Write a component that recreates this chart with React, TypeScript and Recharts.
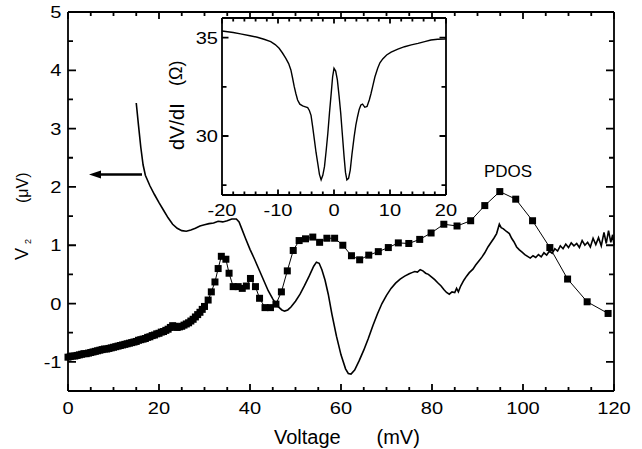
import React from 'react';
import { ComposedChart, LineChart, Line, XAxis, YAxis } from 'recharts';

const FONT = '"Liberation Sans", Arial, Helvetica, sans-serif';
const INK = '#000';

// measured V2 signal (solid line): bias voltage in mV, V2 in µV
const v2Volt = [
  15, 15.5, 16, 16.5, 17, 18, 19, 20, 21, 22,
  23, 24, 25, 26, 27, 28, 29, 30, 31, 32,
  33, 34, 35, 36, 37, 37.6, 38.2, 39, 40, 41,
  42, 43, 44, 45, 46, 47, 47.6, 48.3, 49, 50,
  51, 52, 53, 54, 54.6, 55.2, 55.8, 56.5, 57.2, 58,
  59, 60, 61, 61.6, 62.2, 63, 64, 65, 66, 67,
  68, 69, 70, 71, 72, 73, 74, 75, 75.6, 76.2,
  76.8, 77.4, 78, 78.6, 79.2, 80, 80.6, 81.2, 82, 82.6,
  83.2, 83.8, 84.4, 85, 85.4, 85.8, 86.3, 87, 87.6, 88.2,
  89, 89.6, 90.3, 91, 91.6, 92.3, 93, 93.6, 94.2, 94.8,
  95.2, 95.7, 96.3, 97, 97.5, 98, 98.6, 99.2, 99.8, 100.4,
  101, 101.6, 102.2, 102.8, 103.4, 104, 104.6, 105.2, 105.8, 106.4,
  107, 107.6, 108.2, 108.8, 109.4, 110, 110.6, 111.2, 111.8, 112.4,
  113, 113.6, 114.2, 114.8, 115.4, 116, 116.6, 117.2, 117.8, 118.3,
  118.8, 119.3, 119.7, 120,
];
const v2Val = [
  3.44, 3.05, 2.68, 2.38, 2.2, 2.02, 1.87, 1.73, 1.6, 1.47,
  1.36, 1.29, 1.25, 1.24, 1.26, 1.29, 1.33, 1.35, 1.37, 1.38,
  1.41, 1.4, 1.42, 1.45, 1.45, 1.4, 1.28, 1.12, 0.93, 0.76,
  0.58, 0.4, 0.22, 0.08, -0.04, -0.11, -0.13, -0.11, -0.06, 0.04,
  0.16, 0.31, 0.47, 0.64, 0.71, 0.69, 0.58, 0.4, 0.16, -0.18,
  -0.56, -0.88, -1.12, -1.2, -1.21, -1.14, -0.98, -0.8, -0.6, -0.38,
  -0.18, 0.0, 0.14, 0.26, 0.35, 0.42, 0.47, 0.51, 0.53, 0.55,
  0.54, 0.58, 0.56, 0.52, 0.5, 0.45, 0.41, 0.36, 0.3, 0.24,
  0.19, 0.16, 0.2, 0.19, 0.26, 0.2, 0.3, 0.4, 0.47, 0.53,
  0.59, 0.66, 0.73, 0.8, 0.87, 0.97, 1.05, 1.12, 1.2, 1.36,
  1.3, 1.28, 1.24, 1.2, 1.12, 1.06, 0.97, 0.92, 0.88, 0.84,
  0.81, 0.78, 0.82, 0.79, 0.84, 0.8, 0.87, 0.83, 0.9, 0.86,
  0.94, 0.9, 0.99, 0.94, 1.02, 0.96, 1.04, 0.99, 1.03, 0.96,
  1.08, 1.0, 1.05, 0.97, 1.12, 1.01, 1.13, 0.99, 1.22, 1.03,
  1.25, 1.05, 1.18, 1.0,
];

// PDOS (square markers)
const pdosVolt = [
  0, 0.5, 1, 1.5, 2, 2.5, 3, 3.5, 4, 4.5,
  5, 5.5, 6, 6.5, 7, 7.5, 8, 8.5, 9, 9.5,
  10, 10.5, 11, 11.5, 12, 12.5, 13, 13.5, 14, 14.5,
  15, 15.5, 16, 16.5, 17, 17.5, 18, 18.5, 19, 19.5,
  20, 20.5, 21, 21.5, 22, 22.5, 23, 23.5, 24, 24.5,
  25, 25.5, 26, 26.5, 27, 27.5, 28, 28.5, 29, 29.5,
  30, 30.8, 31.5, 32.3, 33.0, 33.7, 34.7, 35.4, 36.3, 37.4,
  38.3, 39.2, 40.1, 41.2, 42.1, 43.3, 44.5, 45.7, 46.9, 48.2,
  49.5, 50.8, 52.2, 53.8, 55.3, 56.9, 58.6, 60.4, 62.3, 64.1,
  66.1, 68.2, 70.4, 72.6, 74.9, 77.3, 79.8, 82.6, 85.5, 88.5,
  91.6, 94.9, 98.4, 102.1, 105.9, 109.8, 114.1, 118.7,
];
const pdosVal = [
  -0.92, -0.91, -0.9, -0.9, -0.89, -0.88, -0.87, -0.86, -0.86, -0.85,
  -0.84, -0.83, -0.82, -0.81, -0.8, -0.79, -0.78, -0.78, -0.77, -0.76,
  -0.75, -0.74, -0.73, -0.72, -0.71, -0.7, -0.69, -0.68, -0.67, -0.66,
  -0.65, -0.63, -0.62, -0.61, -0.6, -0.58, -0.57, -0.55, -0.54, -0.52,
  -0.51, -0.49, -0.48, -0.46, -0.44, -0.41, -0.38, -0.39, -0.41, -0.4,
  -0.39, -0.37, -0.35, -0.33, -0.3, -0.27, -0.23, -0.19, -0.15, -0.1,
  -0.05, 0.06, 0.2, 0.37, 0.6, 0.81, 0.76, 0.52, 0.29, 0.29,
  0.26, 0.3, 0.43, 0.29, 0.09, -0.07, -0.07, -0.01, 0.2, 0.56,
  0.91, 1.08, 1.11, 1.14, 1.05, 1.12, 1.12, 1.0, 0.82, 0.75,
  0.83, 0.89, 0.96, 1.04, 1.03, 1.1, 1.21, 1.36, 1.33, 1.42,
  1.68, 1.92, 1.79, 1.42, 0.96, 0.42, 0.03, -0.17,
];

// inset: dV/dI (Ω) against voltage (mV)
const insetVolt = [
  -20, -18, -16.7, -15, -13.7, -12.5, -11.3, -10.5, -9.8, -9.2,
  -8.6, -8.1, -7.7, -7.4, -7.1, -6.8, -6.5, -6.1, -5.6, -5.1,
  -4.7, -4.4, -4.1, -3.8, -3.5, -3.2, -2.9, -2.6, -2.3, -2.0,
  -1.7, -1.4, -1.1, -0.8, -0.5, -0.25, 0, 0.3, 0.6, 0.9,
  1.2, 1.5, 1.8, 2.05, 2.3, 2.6, 2.9, 3.2, 3.6, 3.9,
  4.2, 4.5, 4.8, 5.1, 5.5, 5.9, 6.3, 6.6, 6.9, 7.3,
  7.8, 8.2, 8.7, 9.4, 10.2, 11.4, 12.6, 13.8, 15.0, 16.2,
  17.3, 18.5, 19.7, 20,
];
const insetVal = [
  35.34, 35.26, 35.19, 35.1, 35.02, 34.92, 34.8, 34.65, 34.46, 34.22,
  33.95, 33.68, 33.36, 32.95, 32.51, 32.15, 31.83, 31.62, 31.53, 31.48,
  31.44, 31.3, 31.05, 30.45, 29.8, 29.15, 28.61, 28.05, 27.77, 28.0,
  28.44, 29.25, 30.14, 31.2, 32.17, 33.0, 33.44, 33.3, 32.85, 32.05,
  31.16, 30.05, 28.95, 28.15, 27.77, 27.85, 28.27, 29.05, 29.97, 30.55,
  30.98, 31.35, 31.58, 31.62, 31.46, 31.5, 31.83, 32.15, 32.51, 33.0,
  33.44, 33.72, 33.92, 34.12, 34.26, 34.42, 34.54, 34.63, 34.71, 34.8,
  34.88, 34.92, 34.93, 34.94,
];

const xTicks = [0, 5, 10, 15, 20, 25, 30, 35, 40, 45, 50, 55, 60, 65, 70, 75, 80, 85, 90, 95, 100, 105, 110, 115, 120];
const yTicks = [-1, -0.5, 0, 0.5, 1, 1.5, 2, 2.5, 3, 3.5, 4, 4.5, 5];
const insetXTicks = [-20, -18, -16, -14, -12, -10, -8, -6, -4, -2, 0, 2, 4, 6, 8, 10, 12, 14, 16, 18, 20];
const insetYTicks = [27.5, 30, 32.5, 35];

const v2Data = v2Volt.map((x, i) => ({ x, y: v2Val[i] }));
const pdosData = pdosVolt.map((x, i) => ({ x, y: pdosVal[i] }));
const insetData = insetVolt.map((x, i) => ({ x, y: insetVal[i] }));

// chart frames (px)
const MAIN = { w: 642, h: 449, top: 11, right: 27, bottom: 28, xAxisH: 30, yAxisW: 68, ox: 0 };
const INSET = { w: 310, h: 225, top: 17, right: 13, bottom: 0, xAxisH: 30, yAxisW: 72, ox: 150 };

const FRAME_W = 1.8;

const isMajorOf = (v: number, major: number) => {
  const r = v / major;
  return Math.abs(r - Math.round(r)) < 1e-6;
};

type Side = 'bottom' | 'left';

// labels on the bottom/left majors
const makeLabel = (side: Side, major: number, gap: number) =>
  (props: any) => {
    const x = Number(props.x);
    const y = Number(props.y);
    const v = Number(props.payload.value);
    if (!isMajorOf(v, major)) return <g />;
    if (side === 'bottom') {
      return (
        <text transform={`translate(${x},${y + gap}) scale(1.18,1)`} textAnchor="middle" fontSize={17} fontFamily={FONT} fill={INK} stroke="none">
          {v}
        </text>
      );
    }
    return (
      <text transform={`translate(${x - gap},${y + 6}) scale(1.18,1)`} textAnchor="end" fontSize={17} fontFamily={FONT} fill={INK} stroke="none">
        {v}
      </text>
    );
  };

// inward ticks on all four sides of a frame, as one svg path
const tickPath = (
  xt: number[], yt: number[], xd: [number, number], yd: [number, number],
  f: typeof MAIN, xMajor: number, yMajor: number, longLen: number, shortLen: number,
) => {
  const left = f.ox + f.yAxisW;
  const right = f.ox + f.w - f.right - 1;
  const top = f.top + 1;
  const bottom = f.h - f.bottom - f.xAxisH;
  const sx = (v: number) => left + ((v - xd[0]) / (xd[1] - xd[0])) * (right - left);
  const sy = (v: number) => bottom - ((v - yd[0]) / (yd[1] - yd[0])) * (bottom - top);
  let d = '';
  xt.forEach((v) => {
    const L = isMajorOf(v, xMajor) ? longLen : shortLen;
    const x = sx(v);
    d += `M${x},${bottom}V${bottom - L}M${x},${top}V${top + L}`;
  });
  yt.forEach((v) => {
    const L = isMajorOf(v, yMajor) ? longLen + 1 : shortLen + 1;
    const y = sy(v);
    d += `M${left},${y}H${left + L}M${right},${y}H${right - L}`;
  });
  return d;
};

const axisLine = { stroke: INK, strokeWidth: FRAME_W };

const Square = (props: any) => {
  const { cx, cy, index } = props;
  if (cx == null || cy == null) return <g key={`s${index}`} />;
  return <rect key={`s${index}`} x={cx - 3.5} y={cy - 3.5} width={7} height={7} fill={INK} />;
};

const MainChart = () => (
  <ComposedChart width={MAIN.w} height={MAIN.h} margin={{ top: MAIN.top, right: MAIN.right, bottom: MAIN.bottom, left: 0 }}>
    <XAxis xAxisId="b" type="number" dataKey="x" domain={[0, 120]} ticks={xTicks} interval={0}
      height={MAIN.xAxisH} stroke={INK} tickSize={0} tickMargin={0} tickLine={false} axisLine={axisLine}
      tick={makeLabel('bottom', 20, 23)} />
    <XAxis xAxisId="t" orientation="top" type="number" dataKey="x" domain={[0, 120]} ticks={xTicks} interval={0}
      height={1} stroke={INK} tickLine={false} tick={false} axisLine={axisLine} />
    <YAxis yAxisId="l" type="number" domain={[-1.5, 5]} ticks={yTicks} interval={0}
      width={MAIN.yAxisW} stroke={INK} tickSize={0} tickMargin={0} tickLine={false} axisLine={axisLine}
      tick={makeLabel('left', 1, 6.5)} />
    <YAxis yAxisId="r" orientation="right" type="number" domain={[-1.5, 5]} ticks={yTicks} interval={0}
      width={1} stroke={INK} tickLine={false} tick={false} axisLine={axisLine} />
    <Line xAxisId="b" yAxisId="l" data={v2Data} dataKey="y" type="linear" stroke={INK} strokeWidth={1.6}
      dot={false} activeDot={false} isAnimationActive={false} />
    <Line xAxisId="t" yAxisId="r" data={pdosData} dataKey="y" type="linear" stroke={INK} strokeWidth={1}
      dot={Square} activeDot={false} isAnimationActive={false} />
  </ComposedChart>
);

const InsetChart = () => (
  <LineChart width={INSET.w} height={INSET.h} margin={{ top: INSET.top, right: INSET.right, bottom: INSET.bottom, left: 0 }}>
    <XAxis xAxisId="b" type="number" dataKey="x" domain={[-20, 20]} ticks={insetXTicks} interval={0}
      height={INSET.xAxisH} stroke={INK} tickSize={0} tickMargin={0} tickLine={false} axisLine={axisLine}
      tick={makeLabel('bottom', 10, 21)} />
    <XAxis xAxisId="t" orientation="top" type="number" dataKey="x" domain={[-20, 20]} ticks={insetXTicks} interval={0}
      height={1} stroke={INK} tickLine={false} tick={false} axisLine={axisLine} />
    <YAxis yAxisId="l" type="number" domain={[27, 36]} ticks={insetYTicks} interval={0}
      width={INSET.yAxisW} stroke={INK} tickSize={0} tickMargin={0} tickLine={false} axisLine={axisLine}
      tick={makeLabel('left', 5, 4)} />
    <YAxis yAxisId="r" orientation="right" type="number" domain={[27, 36]} ticks={insetYTicks} interval={0}
      width={1} stroke={INK} tickLine={false} tick={false} axisLine={axisLine} />
    <Line xAxisId="b" yAxisId="l" data={insetData} dataKey="y" type="linear" stroke={INK} strokeWidth={1.4}
      dot={false} activeDot={false} isAnimationActive={false} />
    <Line xAxisId="t" yAxisId="r" data={insetData} dataKey="y" stroke="none"
      dot={false} activeDot={false} isAnimationActive={false} />
  </LineChart>
);

const Annotations = () => (
  <svg width={642} height={449} style={{ position: 'absolute', left: 0, top: 0, pointerEvents: 'none' }}>
    {/* inward frame ticks */}
    <path d={tickPath(xTicks, yTicks, [0, 120], [-1.5, 5], MAIN, 20, 1, 7, 4)} stroke={INK} strokeWidth={FRAME_W} fill="none" />
    <path d={tickPath(insetXTicks, insetYTicks, [-20, 20], [27, 36], INSET, 10, 5, 5.5, 3.5)} stroke={INK} strokeWidth={FRAME_W} fill="none" />
    {/* axis titles */}
    <text x={274} y={444} fontSize={20} fontFamily={FONT} fill={INK}>Voltage</text>
    <text x={376.5} y={444} fontSize={20} fontFamily={FONT} fill={INK}>(mV)</text>
    <text transform="translate(28,260) rotate(-90)" fontSize={18} fontFamily={FONT} fill={INK}>V</text>
    <text transform="translate(31,244) rotate(-90)" fontSize={9} fontFamily={FONT} fill={INK}>2</text>
    <text transform="translate(28,203) rotate(-90)" fontSize={16} fontFamily={FONT} fill={INK}>(μV)</text>
    <text transform="translate(184,150) rotate(-90)" fontSize={20} fontFamily={FONT} fill={INK}>dV/dI</text>
    <text transform="translate(182,86) rotate(-90)" fontSize={18} fontFamily={FONT} fill={INK}>(Ω)</text>
    {/* arrow pointing to the left axis */}
    <line x1={142} y1={174.5} x2={98} y2={174.5} stroke={INK} strokeWidth={2.6} />
    <polygon points="89,174.5 101,170.5 101,178.5" fill={INK} />
    <text x={508} y={177} textAnchor="middle" fontSize={17} fontFamily={FONT} fill={INK}>PDOS</text>
  </svg>
);

export default function App() {
  return (
    <div style={{ position: 'absolute', left: 0, top: 0, width: 642, height: 449, background: '#fff' }}>
      <div style={{ position: 'absolute', left: 0, top: 0 }}>
        <MainChart />
      </div>
      <div style={{ position: 'absolute', left: 150, top: 0 }}>
        <InsetChart />
      </div>
      <Annotations />
    </div>
  );
}
